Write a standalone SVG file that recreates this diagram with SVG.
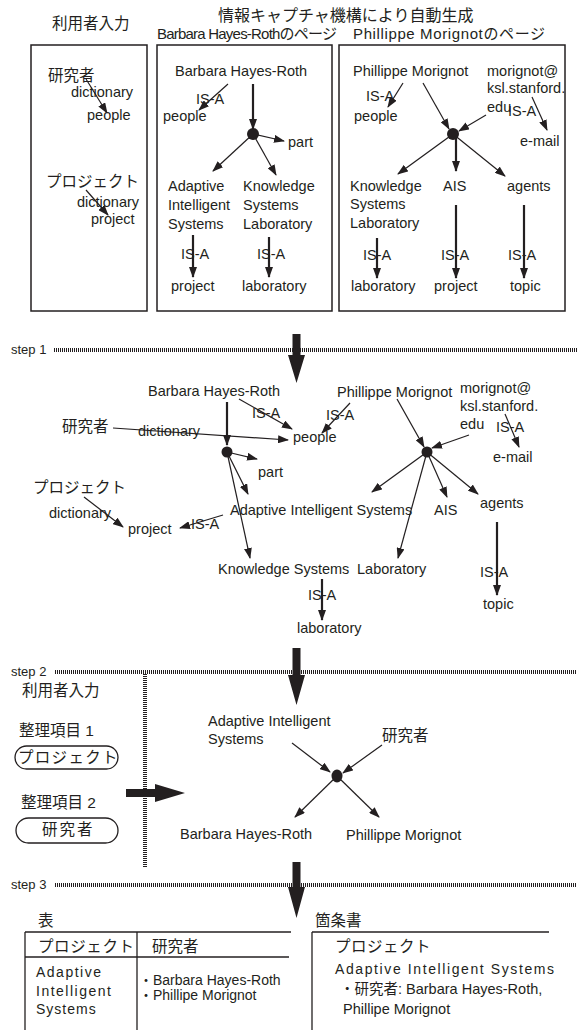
<svg xmlns="http://www.w3.org/2000/svg" width="577" height="1030" viewBox="0 0 577 1030">
<style>
text{font-family:"Liberation Sans","Noto Sans CJK JP",Arial,sans-serif;font-size:14.5px;fill:#231f20}
.j{font-size:15.5px}
.h{font-size:15px}
.s{font-size:13px}
.sp{letter-spacing:1.5px}
.box{fill:none;stroke:#231f20;stroke-width:1.5}
.ln{fill:none;stroke:#231f20;stroke-width:1.2;marker-end:url(#ah)}
.lv{fill:none;stroke:#231f20;stroke-width:2.2;marker-end:url(#ah)}
.dl{fill:none;stroke:#231f20;stroke-width:4;stroke-dasharray:1 1}
.dot{fill:#231f20}
.big{fill:#231f20}
.tl{fill:none;stroke:#231f20;stroke-width:1.3}
</style>
<defs>
<marker id="ah" markerUnits="userSpaceOnUse" markerWidth="11" markerHeight="8" viewBox="0 0 11 8" refX="10" refY="4" orient="auto">
<path d="M0,0 L11,4 L0,8 z" fill="#231f20"/>
</marker>
</defs>

<!-- headers -->
<g id="headers">
<text class="j" x="52" y="29">利用者入力</text>
<text class="j" x="218" y="21" style="font-size:16px">情報キャプチャ機構により自動生成</text>
<text class="h" x="157" y="39" textLength="180" lengthAdjust="spacing">Barbara Hayes-Rothのページ</text>
<text class="h" x="353" y="39" textLength="192" lengthAdjust="spacing">Phillippe Morignotのページ</text>
</g>

<!-- boxes -->
<g id="box-user"><rect class="box" x="31" y="45" width="116" height="266"/></g>
<g id="box-bhr"><rect class="box" x="157" y="45" width="175" height="266"/></g>
<g id="box-pm"><rect class="box" x="339" y="45" width="226" height="266"/></g>

<g id="connectors">
<!-- box 1 -->
<line class="ln" x1="86" y1="79" x2="107" y2="113"/>
<line class="ln" x1="86" y1="190" x2="108" y2="215"/>
<!-- box 2 -->
<line class="lv" x1="253" y1="84" x2="253" y2="129"/>
<line class="ln" x1="228" y1="84" x2="199" y2="110"/>
<line class="ln" x1="253" y1="134" x2="284" y2="141"/>
<line class="ln" x1="253" y1="134" x2="213" y2="171"/>
<line class="ln" x1="253" y1="134" x2="276" y2="175"/>
<line class="lv" x1="193" y1="235" x2="193" y2="277"/>
<line class="lv" x1="269" y1="237" x2="269" y2="277"/>
<!-- box 3 -->
<line class="ln" x1="403" y1="83" x2="388" y2="107"/>
<line class="ln" x1="423" y1="83" x2="449" y2="129"/>
<line class="ln" x1="486" y1="115" x2="459" y2="131"/>
<line class="ln" x1="532" y1="97" x2="547" y2="130"/>
<line class="ln" x1="453" y1="134" x2="398" y2="174"/>
<line class="lv" x1="456" y1="134" x2="456" y2="171"/>
<line class="ln" x1="453" y1="134" x2="505" y2="176"/>
<line class="lv" x1="377" y1="238" x2="377" y2="278"/>
<line class="lv" x1="456" y1="205" x2="456" y2="278"/>
<line class="lv" x1="524" y1="205" x2="524" y2="278"/>

<!-- step lines -->
<line class="dl" x1="54" y1="350" x2="577" y2="350"/>
<line class="dl" x1="55" y1="672" x2="577" y2="672"/>
<line class="dl" x1="145" y1="674" x2="145" y2="868"/>
<line class="dl" x1="55" y1="885" x2="577" y2="885"/>
<path class="big" d="M292.5,334 H300.5 V355 H305 L296.5,383 L288,355 H292.5 Z"/>
<path class="big" d="M292.5,648 H300.5 V675 H305 L296.5,705 L288,675 H292.5 Z"/>
<path class="big" d="M292.5,862 H300.5 V887 H305 L296.5,918 L288,887 H292.5 Z"/>
<path class="big" d="M126,789 H155 V784 L185,793 L155,802 V797 H126 Z"/>

<!-- step 1 graph -->
<line class="lv" x1="227" y1="402" x2="227" y2="445"/>
<line class="ln" x1="239" y1="399" x2="292" y2="429"/>
<line class="ln" x1="350" y1="403" x2="322" y2="433"/>
<line class="ln" x1="113" y1="428" x2="288" y2="440"/>
<line class="ln" x1="227" y1="452" x2="257" y2="459"/>
<line class="ln" x1="227" y1="452" x2="248" y2="494"/>
<line class="ln" x1="227" y1="452" x2="250" y2="558"/>
<line class="ln" x1="84" y1="497" x2="123" y2="527"/>
<line class="ln" x1="223" y1="515" x2="180" y2="528"/>
<line class="ln" x1="397" y1="399" x2="424" y2="447"/>
<line class="ln" x1="469" y1="435" x2="432" y2="448"/>
<line class="ln" x1="505" y1="414" x2="519" y2="447"/>
<line class="ln" x1="427" y1="452" x2="372" y2="492"/>
<line class="ln" x1="427" y1="452" x2="398" y2="558"/>
<line class="ln" x1="427" y1="452" x2="447" y2="497"/>
<line class="ln" x1="427" y1="452" x2="478" y2="494"/>
<line class="lv" x1="322" y1="579" x2="322" y2="620"/>
<line class="lv" x1="497" y1="522" x2="497" y2="595"/>

<!-- step 2 graph -->
<line class="ln" x1="292" y1="743" x2="330" y2="772"/>
<line class="ln" x1="382" y1="745" x2="343" y2="773"/>
<line class="ln" x1="337" y1="776" x2="295" y2="817"/>
<line class="ln" x1="337" y1="776" x2="379" y2="817"/>
</g>

<!-- box 1 nodes -->
<g id="n-b1-researcher"><text class="j" x="48" y="81">研究者</text></g>
<g id="n-b1-dict1"><text x="71" y="97">dictionary</text></g>
<g id="n-b1-people"><text x="87" y="120">people</text></g>
<g id="n-b1-project-j"><text class="j" x="46" y="187">プロジェクト</text></g>
<g id="n-b1-dict2"><text x="77" y="207">dictionary</text></g>
<g id="n-b1-project"><text x="91" y="224">project</text></g>

<!-- box 2 nodes -->
<g id="n-b2-bhr"><text x="175" y="76">Barbara Hayes-Roth</text></g>
<g id="n-b2-dot"><circle class="dot" cx="253" cy="134" r="6"/></g>
<g id="n-b2-isa1"><text x="196" y="104">IS-A</text></g>
<g id="n-b2-people"><text x="163" y="121">people</text></g>
<g id="n-b2-part"><text x="288" y="147">part</text></g>
<g id="n-b2-ais"><text x="168" y="191">Adaptive</text><text x="168" y="210">Intelligent</text><text x="168" y="229">Systems</text></g>
<g id="n-b2-ksl"><text x="243" y="191">Knowledge</text><text x="243" y="210">Systems</text><text x="243" y="229">Laboratory</text></g>
<g id="n-b2-isa2"><text x="181" y="259">IS-A</text></g>
<g id="n-b2-isa3"><text x="257" y="259">IS-A</text></g>
<g id="n-b2-project"><text x="171" y="291">project</text></g>
<g id="n-b2-lab"><text x="242" y="291">laboratory</text></g>

<!-- box 3 nodes -->
<g id="n-b3-pm"><text x="353" y="76">Phillippe Morignot</text></g>
<g id="n-b3-mail"><text x="487" y="76">morignot@</text><text x="487" y="93">ksl.stanford.</text><text x="487" y="112">edu</text></g>
<g id="n-b3-isa1"><text x="366" y="101">IS-A</text></g>
<g id="n-b3-people"><text x="354" y="121">people</text></g>
<g id="n-b3-dot"><circle class="dot" cx="453" cy="134" r="6"/></g>
<g id="n-b3-isa2"><text x="508" y="116">IS-A</text></g>
<g id="n-b3-email"><text x="520" y="146">e-mail</text></g>
<g id="n-b3-ksl"><text x="350" y="191">Knowledge</text><text x="350" y="209">Systems</text><text x="350" y="228">Laboratory</text></g>
<g id="n-b3-ais"><text x="443" y="191">AIS</text></g>
<g id="n-b3-agents"><text x="507" y="191">agents</text></g>
<g id="n-b3-isa3"><text x="363" y="260">IS-A</text></g>
<g id="n-b3-isa4"><text x="441" y="260">IS-A</text></g>
<g id="n-b3-isa5"><text x="508" y="260">IS-A</text></g>
<g id="n-b3-lab"><text x="351" y="291">laboratory</text></g>
<g id="n-b3-project"><text x="434" y="291">project</text></g>
<g id="n-b3-topic"><text x="510" y="291">topic</text></g>

<!-- step labels -->
<g id="step1"><text class="s" x="11" y="354">step 1</text></g>
<g id="step2"><text class="s" x="11" y="676">step 2</text></g>
<g id="step3"><text class="s" x="11" y="889">step 3</text></g>

<!-- step 1 nodes -->
<g id="n-s1-bhr"><text x="148" y="396">Barbara Hayes-Roth</text></g>
<g id="n-s1-dot1"><circle class="dot" cx="227" cy="452" r="5.5"/></g>
<g id="n-s1-isa1"><text x="252" y="418">IS-A</text></g>
<g id="n-s1-isa2"><text x="326" y="420">IS-A</text></g>
<g id="n-s1-people"><text x="293" y="442">people</text></g>
<g id="n-s1-researcher"><text class="j" x="62" y="432">研究者</text></g>
<g id="n-s1-dict1"><text x="138" y="436">dictionary</text></g>
<g id="n-s1-part"><text x="258" y="477">part</text></g>
<g id="n-s1-project-j"><text class="j" x="33" y="493">プロジェクト</text></g>
<g id="n-s1-dict2"><text x="49" y="518">dictionary</text></g>
<g id="n-s1-project"><text x="128" y="534">project</text></g>
<g id="n-s1-isa3"><text x="191" y="529">IS-A</text></g>
<g id="n-s1-ais"><text x="230" y="515">Adaptive Intelligent Systems</text></g>
<g id="n-s1-AIS"><text x="434" y="515">AIS</text></g>
<g id="n-s1-agents"><text x="480" y="508">agents</text></g>
<g id="n-s1-pm"><text x="337" y="397">Phillippe Morignot</text></g>
<g id="n-s1-mail"><text x="460" y="393">morignot@</text><text x="460" y="411">ksl.stanford.</text><text x="460" y="429">edu</text></g>
<g id="n-s1-isa4"><text x="496" y="432">IS-A</text></g>
<g id="n-s1-email"><text x="493" y="462">e-mail</text></g>
<g id="n-s1-dot2"><circle class="dot" cx="427" cy="452" r="5.5"/></g>
<g id="n-s1-ks"><text x="218" y="574">Knowledge Systems</text></g>
<g id="n-s1-labU"><text x="357" y="574">Laboratory</text></g>
<g id="n-s1-isa5"><text x="308" y="600">IS-A</text></g>
<g id="n-s1-lab"><text x="297" y="633">laboratory</text></g>
<g id="n-s1-isa6"><text x="480" y="577">IS-A</text></g>
<g id="n-s1-topic"><text x="483" y="609">topic</text></g>

<!-- step 2 nodes -->
<g id="n-s2-user"><text class="j" x="22" y="696">利用者入力</text></g>
<g id="n-s2-item1"><text class="j" x="19" y="736">整理項目 1</text></g>
<g id="n-s2-pill1"><rect class="tl" x="15" y="746" width="103" height="23" rx="11.5"/><text class="j" x="18" y="763" style="letter-spacing:1.3px">プロジェクト</text></g>
<g id="n-s2-item2"><text class="j" x="21" y="808">整理項目 2</text></g>
<g id="n-s2-pill2"><rect class="tl" x="16" y="818" width="102" height="25" rx="12.5"/><text class="j" x="42" y="835" style="letter-spacing:2px">研究者</text></g>
<g id="n-s2-ais"><text x="208" y="726">Adaptive Intelligent</text><text x="208" y="744">Systems</text></g>
<g id="n-s2-researcher"><text class="j" x="382" y="741">研究者</text></g>
<g id="n-s2-dot"><ellipse class="dot" cx="337" cy="776" rx="5.5" ry="6.5"/></g>
<g id="n-s2-bhr"><text x="180" y="839">Barbara Hayes-Roth</text></g>
<g id="n-s2-pm"><text x="346" y="840">Phillippe Morignot</text></g>

<!-- step 3 -->
<g id="n-s3-table">
<text class="j" x="38" y="926">表</text>
<line class="tl" x1="25" y1="932" x2="291" y2="932"/>
<line class="tl" x1="25" y1="957" x2="289" y2="957"/>
<line class="tl" x1="25" y1="932" x2="25" y2="1030"/>
<line class="tl" x1="137" y1="932" x2="137" y2="1030"/>
<text class="j" x="38" y="952" style="letter-spacing:0.6px">プロジェクト</text>
<text class="j" x="152" y="952">研究者</text>
<text class="sp" x="36" y="977" style="font-size:14px">Adaptive</text>
<text class="sp" x="36" y="996" style="font-size:14px">Intelligent</text>
<text class="sp" x="36" y="1014" style="font-size:14px;letter-spacing:1px">Systems</text>
<text x="139" y="985" style="font-size:14px">・Barbara Hayes-Roth</text>
<text x="139" y="1000" style="font-size:14px">・Phillipe Morignot</text>
</g>
<g id="n-s3-list">
<text class="j" x="315" y="926">箇条書</text>
<line class="tl" x1="312" y1="932" x2="549" y2="932"/>
<line class="tl" x1="312" y1="932" x2="312" y2="1030"/>
<text class="j" x="335" y="952" style="letter-spacing:0.5px">プロジェクト</text>
<text x="335" y="974" style="font-size:14px;letter-spacing:1.6px">Adaptive Intelligent Systems</text>
<text x="340" y="994">・研究者: Barbara Hayes-Roth,</text>
<text x="343" y="1014">Phillipe Morignot</text>
</g>
</svg>
